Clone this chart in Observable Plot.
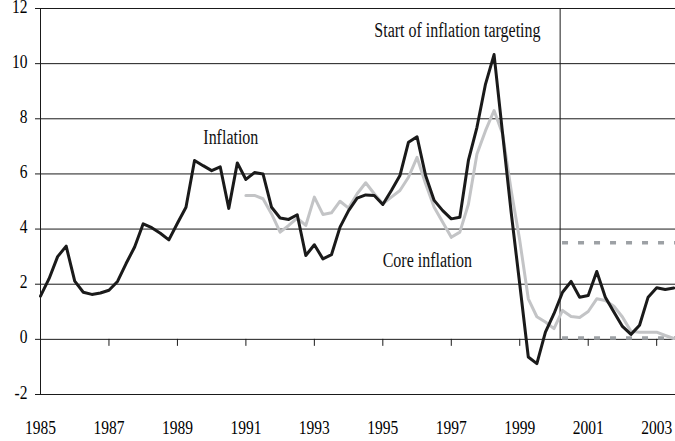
<!DOCTYPE html>
<html><head><meta charset="utf-8">
<script src="https://cdn.jsdelivr.net/npm/d3@7"></script>
<script src="https://cdn.jsdelivr.net/npm/@observablehq/plot@0.6"></script>
<style>
html,body{margin:0;padding:0;background:#fff;}
</style></head><body><div id="chart"></div>
<script>
// Quarterly data, first quarter plotted at the year tick
const inflationStart = 1985;
const inflation = [
  1.57, 2.2, 3.0, 3.38,  2.11, 1.71, 1.63, 1.68,  1.78, 2.1, 2.75, 3.35,
  4.19, 4.05, 3.85, 3.61,  4.21, 4.79, 6.49, 6.3,  6.12, 6.26, 4.75, 6.4,
  5.8, 6.05, 6.0, 4.79,  4.4, 4.35, 4.52, 3.04,  3.43, 2.92, 3.07, 4.07,
  4.67, 5.12, 5.24, 5.22,  4.89, 5.4, 5.94, 7.15,  7.35, 5.94, 5.04, 4.67,
  4.37, 4.43, 6.49, 7.69,  9.26, 10.33, 7.45, 4.6,  2.0, -0.64, -0.88, 0.26,
  0.93, 1.71, 2.1, 1.53,  1.59, 2.46, 1.53, 0.99,  0.47, 0.18, 0.51, 1.53,
  1.87, 1.81, 1.86
];
const coreStart = 1991;
const coreInflation = [
  5.22, 5.22, 5.1, 4.55,  3.89, 4.13, 4.4, 4.13,  5.16, 4.53, 4.59, 5.01,
  4.76, 5.28, 5.68, 5.28,  4.92, 5.16, 5.4, 5.88,  6.6, 5.64, 4.79, 4.25,
  3.7, 3.89, 4.9, 6.72,  7.57, 8.3, 7.45, 5.4,  3.59, 1.47, 0.82, 0.63,
  0.39, 1.05, 0.83, 0.79,  1.01, 1.47, 1.41, 1.2,  0.81, 0.29, 0.26, 0.26,
  0.26, 0.14, 0.03
];
const xTicks = [1985, 1987, 1989, 1991, 1993, 1995, 1997, 1999, 2001, 2003];
const yTicks = [-2, 0, 2, 4, 6, 8, 10, 12];
const xDomain = [1985, 2003.55];
const yDomain = [-2, 12];
const targetBand = [0.05, 3.5];
const targetStart = 2000.25;
const regimeChange = 2000.18;
const annotations = [
  {text: "Inflation", x: 1990.56, y: 7.1},
  {text: "Start of inflation targeting", x: 1997.18, y: 10.98},
  {text: "Core inflation", x: 1996.3, y: 2.63}
];

const infl = inflation.map((v, i) => ({date: inflationStart + i / 4, value: v}));
const core = coreInflation.map((v, i) => ({date: coreStart + i / 4, value: v}));

const chart = Plot.plot({
  width: 675, height: 441,
  marginLeft: 40, marginRight: 0, marginTop: 8, marginBottom: 47,
  x: {domain: xDomain},
  y: {domain: yDomain},
  style: {fontFamily: "'Liberation Serif', 'Times New Roman', serif", fontSize: "15.5px", background: "#fff", color: "#000"},
  marks: [
    Plot.ruleY(yTicks, {stroke: "#1a1a1a", strokeWidth: 1}),
    Plot.ruleX([xDomain[0]], {y1: yDomain[0], y2: yDomain[1], stroke: "#1a1a1a"}),
    Plot.ruleX(xTicks, {y1: 0, y2: 0, insetTop: 7, stroke: "#1a1a1a"}),
    Plot.ruleX([regimeChange], {y1: 0, y2: yDomain[1], stroke: "#1a1a1a"}),
    Plot.ruleY(targetBand, {x1: targetStart, x2: xDomain[1], stroke: "#9da1a5", strokeWidth: 3.5, strokeDasharray: "6,10"}),
    Plot.line(core, {x: "date", y: "value", stroke: "#c3c4c6", strokeWidth: 3}),
    Plot.line(infl, {x: "date", y: "value", stroke: "#1a1a1a", strokeWidth: 3}),
    Plot.text(annotations, {x: "x", y: "y", text: "text", fontSize: 16, fill: "#111"}),
    Plot.axisY({ticks: yTicks, tickSize: 5, text: null, stroke: "#1a1a1a"}),
    Plot.axisY({ticks: yTicks, tickSize: 0, tickPadding: 13, dy: 4, tickFormat: d => String(d), fill: "#000"}),
    Plot.axisX({ticks: xTicks, tickSize: 0, tickPadding: 39, tickFormat: d => String(d), fill: "#000"})
  ]
});
// The reference's lettering is vertically stretched; stretch each text about its anchor
chart.querySelectorAll("text").forEach(el => {
  const x = +el.getAttribute("x") || 0, y = +el.getAttribute("y") || 0;
  el.removeAttribute("x"); el.removeAttribute("y");
  const t = el.getAttribute("transform") || "";
  el.setAttribute("transform", `${t} translate(${x},${y}) scale(1,1.28)`);
});
document.getElementById("chart").appendChild(chart);
</script></body></html>
